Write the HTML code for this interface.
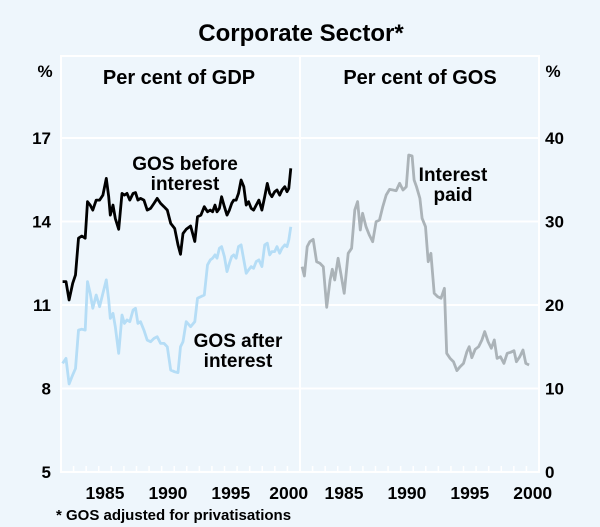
<!DOCTYPE html>
<html><head><meta charset="utf-8"><style>
html,body{margin:0;padding:0;background:#eef6fc;}
svg{display:block;font-family:"Liberation Sans",Arial,sans-serif;}
</style></head><body>
<svg id="chart" width="600" height="527" viewBox="0 0 600 527">
<rect x="0" y="0" width="600" height="527" fill="#eef6fc"/>
<text x="301" y="41" text-anchor="middle" font-size="24" font-weight="bold">Corporate Sector*</text>
<g id="frame"></g>
<g id="grid"></g>
<g id="ticks"></g>
<g id="series"></g>
<g id="labels"></g>
<text x="45" y="77" text-anchor="middle" font-size="17" font-weight="bold">%</text>
<text x="553" y="77" text-anchor="middle" font-size="17" font-weight="bold">%</text>
<text x="179" y="84" text-anchor="middle" font-size="20" font-weight="bold">Per cent of GDP</text>
<text x="420" y="84" text-anchor="middle" font-size="20" font-weight="bold">Per cent of GOS</text>
<text x="185" y="170" text-anchor="middle" font-size="19" font-weight="bold"><tspan x="185">GOS before</tspan><tspan x="185" dy="20">interest</tspan></text>
<text x="238" y="347" text-anchor="middle" font-size="19" font-weight="bold"><tspan x="238">GOS after</tspan><tspan x="238" dy="20">interest</tspan></text>
<text x="453" y="181" text-anchor="middle" font-size="19" font-weight="bold"><tspan x="453">Interest</tspan><tspan x="453" dy="20">paid</tspan></text>
<text x="56" y="520" font-size="15" font-weight="bold">* GOS adjusted for privatisations</text>
</svg>
<script>
const leftDates=[1982.13,1982.4,1982.64,1982.93,1983.15,1983.39,1983.65,1983.92,1984.11,1984.32,1984.53,1984.8,1985.07,1985.33,1985.6,1985.79,1985.92,1986.13,1986.32,1986.59,1986.85,1987.04,1987.25,1987.47,1987.73,1987.92,1988.11,1988.32,1988.59,1988.85,1989.12,1989.39,1989.65,1989.92,1990.19,1990.45,1990.72,1991.04,1991.3,1991.5,1991.7,1991.95,1992.3,1992.64,1992.85,1993.12,1993.39,1993.65,1993.87,1994.05,1994.24,1994.4,1994.59,1994.77,1994.99,1995.2,1995.39,1995.57,1995.73,1995.92,1996.11,1996.32,1996.53,1996.72,1996.91,1997.12,1997.31,1997.52,1997.73,1997.97,1998.19,1998.4,1998.59,1998.77,1998.99,1999.17,1999.39,1999.57,1999.79,1999.97,2000.11,2000.27];
const gosBefore=[11.84,11.84,11.18,11.78,12.08,13.40,13.48,13.40,14.71,14.59,14.41,14.77,14.77,14.95,15.55,14.89,14.23,14.59,14.11,13.72,15.01,14.95,15.01,14.77,15.01,15.04,14.77,14.83,14.77,14.41,14.47,14.65,14.83,14.65,14.53,14.41,13.93,13.75,13.16,12.82,13.57,13.72,13.84,13.28,14.17,14.23,14.53,14.35,14.41,14.35,14.59,14.35,14.47,14.89,14.53,14.23,14.41,14.65,14.77,14.77,15.01,15.49,15.25,14.59,14.71,14.47,14.41,14.59,14.77,14.41,14.89,15.37,15.01,14.89,15.07,15.13,14.95,15.13,15.25,15.07,15.19,15.91];
const gosAfter=[8.90,9.08,8.16,8.49,8.72,10.10,10.13,10.10,11.84,11.42,10.88,11.36,10.94,11.42,11.90,11.18,10.52,10.70,10.22,9.26,10.64,10.34,10.46,10.40,10.82,10.88,10.34,10.40,10.10,9.74,9.68,9.80,9.86,9.62,9.62,9.50,8.66,8.60,8.57,9.50,9.68,10.40,10.22,10.40,11.24,11.30,11.36,12.44,12.62,12.68,12.80,12.68,13.04,13.10,12.74,12.20,12.50,12.74,12.80,12.68,13.10,13.16,12.62,12.14,12.26,12.38,12.32,12.56,12.62,12.38,13.16,13.22,12.80,12.92,12.92,13.10,12.86,13.04,13.16,13.10,13.34,13.81];
const rightDates=[1982.17,1982.35,1982.57,1982.78,1983.05,1983.32,1983.58,1983.85,1984.12,1984.39,1984.57,1984.76,1985.03,1985.24,1985.51,1985.83,1986.1,1986.36,1986.58,1986.79,1986.98,1987.25,1987.51,1987.78,1988.05,1988.32,1988.58,1988.85,1989.12,1989.39,1989.65,1989.92,1990.19,1990.45,1990.64,1990.91,1991.07,1991.26,1991.53,1991.71,1991.98,1992.19,1992.41,1992.67,1992.94,1993.21,1993.48,1993.66,1993.93,1994.2,1994.47,1994.73,1995.0,1995.27,1995.45,1995.66,1995.93,1996.2,1996.46,1996.68,1996.95,1997.21,1997.45,1997.67,1997.94,1998.21,1998.47,1998.74,1999.01,1999.2,1999.47,1999.73,1999.95,2000.21];
const interestPaid=[24.59,23.47,26.99,27.58,27.86,25.19,24.99,24.59,19.72,22.99,24.27,22.99,25.59,23.79,21.40,26.19,26.79,31.38,32.38,28.98,30.98,29.38,28.38,27.58,29.98,30.18,31.78,33.17,33.85,33.77,33.69,34.57,33.77,34.17,37.96,37.84,34.97,34.17,32.77,30.38,29.38,25.19,26.19,21.40,21.00,20.80,22.00,14.21,13.61,13.21,12.14,12.61,13.01,14.41,15.01,13.69,14.69,15.01,15.81,16.81,15.61,14.81,15.81,13.61,13.81,13.01,14.21,14.33,14.53,13.21,13.81,14.61,13.01,12.81];
const leftTicks=[5,8,11,14,17];
const rightTicks=[0,10,20,30,40];
const yearLabels=[1985,1990,1995,2000];

const NS="http://www.w3.org/2000/svg";
const TOP=56,BOT=472,L0=61,MID=300,R1=539,Y0=1982,Y1=2001;
function xL(y){return L0+(y-Y0)/(Y1-Y0)*(MID-L0);}
function xR(y){return MID+(y-Y0)/(Y1-Y0)*(R1-MID);}
function yL(v){return BOT-(v-5)/12*(BOT-138);}
function yR(v){return BOT-v/40*(BOT-138);}
function mk(tag,attrs,parent){const e=document.createElementNS(NS,tag);for(const k in attrs)e.setAttribute(k,attrs[k]);parent.appendChild(e);return e;}
const frame=document.getElementById('frame'),grid=document.getElementById('grid'),ticks=document.getElementById('ticks'),series=document.getElementById('series'),labels=document.getElementById('labels');
let e=mk('rect',{x:L0,y:TOP,width:R1-L0,height:BOT-TOP,fill:'none',stroke:'#ffffff','stroke-width':2},frame);


e=mk('line',{x1:MID,x2:MID,y1:TOP,y2:BOT,stroke:'#ffffff','stroke-width':2},frame);


leftTicks.forEach((v,i)=>{
  const y=yL(v);
  const g=mk('line',{x1:L0,x2:R1,y1:y,y2:y,stroke:'#ffffff','stroke-width':2},grid);
  
  
  const t=mk('text',{x:51,y:y+6,'text-anchor':'end','font-size':17,'font-weight':'bold'},labels);
  t.textContent=v;
  
  
});
rightTicks.forEach(v=>{
  const t=mk('text',{x:545,y:yR(v)+6,'font-size':17,'font-weight':'bold'},labels);
  t.textContent=v;
  
  
});
for(let yr=Y0;yr<=Y1;yr++){
  [xL(yr),xR(yr)].forEach(x=>{
    const t=mk('line',{x1:x,x2:x,y1:BOT,y2:BOT-6,stroke:'#ffffff','stroke-width':1.5},ticks);
    
    
  });
}
yearLabels.forEach(yr=>{
  const a=mk('text',{x:xL(yr+0.5)-(yr===2000?5:0),y:499,'text-anchor':'middle','font-size':17.5,'font-weight':'bold'},labels);
  a.textContent=yr;
  
  
  const b=mk('text',{x:xR(yr+0.5),y:499,'text-anchor':'middle','font-size':17.5,'font-weight':'bold'},labels);
  b.textContent=yr;
  
  
});
function line(dates,vals,fx,fy){
  return dates.map((d,i)=>(i?'L':'M')+fx(d).toFixed(1)+','+fy(vals[i]).toFixed(1)).join(' ');
}
e=mk('path',{d:line(leftDates,gosAfter,xL,yL),fill:'none',stroke:'#b5ddf6','stroke-width':2.8,'stroke-linejoin':'round'},series);


e=mk('path',{d:line(leftDates,gosBefore,xL,yL),fill:'none',stroke:'#000000','stroke-width':2.8,'stroke-linejoin':'round'},series);


e=mk('path',{d:line(rightDates,interestPaid,xR,yR),fill:'none',stroke:'#abb3b8','stroke-width':2.8,'stroke-linejoin':'round'},series);


</script>
</body></html>
